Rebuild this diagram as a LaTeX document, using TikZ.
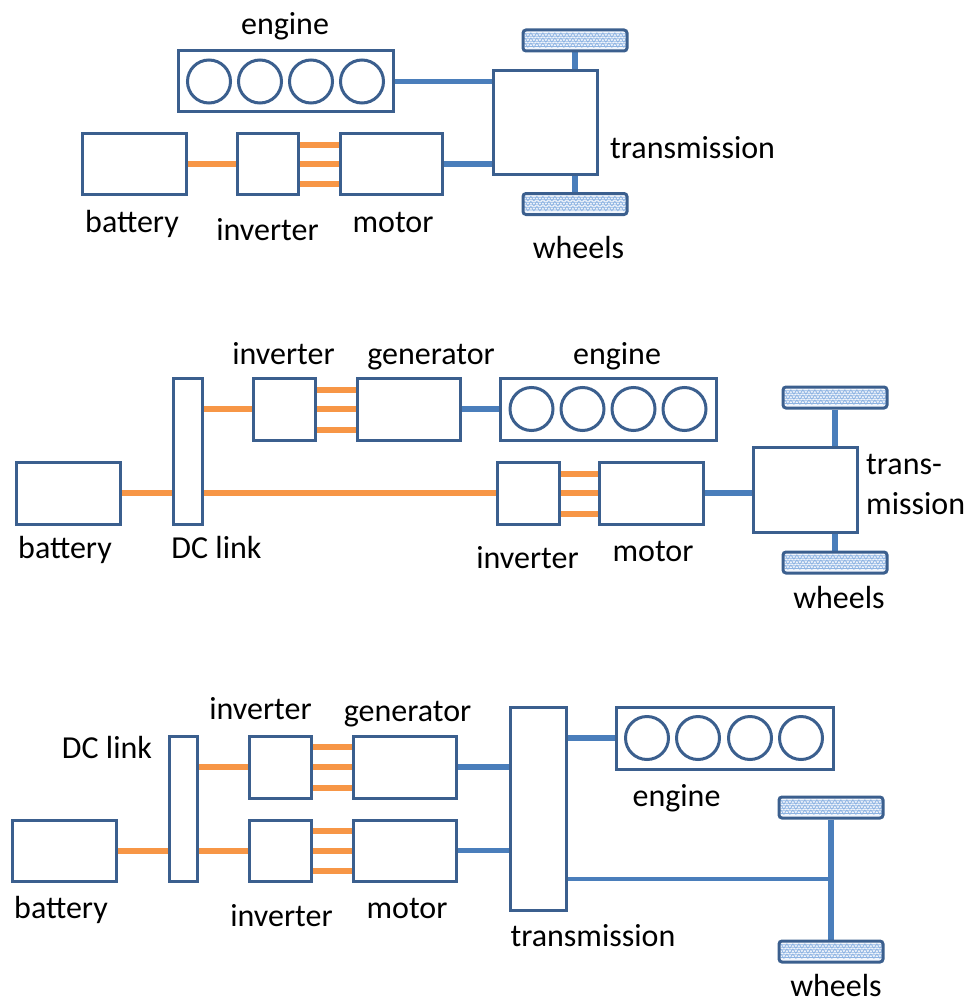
\documentclass[tikz,border=0pt]{standalone}
\usepackage{fontspec}
\setmainfont{Carlito}
\usetikzlibrary{calc,backgrounds,decorations.pathmorphing}
\definecolor{boxblue}{HTML}{3B5F8E}
\definecolor{shaftblue}{HTML}{4A7EBB}
\definecolor{acorange}{HTML}{F79646}
\definecolor{wavefill}{HTML}{F2F6FC}
\definecolor{waveblue}{HTML}{8DB3E2}
\tikzset{
  unit/.style={draw=boxblue, line width=3pt, fill=white, rectangle, inner sep=0pt},
  cyl/.style={draw=boxblue, line width=3pt},
  shaft/.style={draw=shaftblue, line width=5.5pt},
  dcline/.style={draw=acorange, line width=6pt},
  lbl/.style={anchor=base, inner sep=0pt},
  wheel/.style={draw=boxblue, line width=3pt, fill=wavefill, rounded corners=3pt,
    minimum width=104pt, minimum height=21pt, inner sep=0pt,
    path picture={
      \foreach \k in {0.28,0.52,0.76}
        \draw[waveblue, line width=0.7pt, decorate,
              decoration={snake, amplitude=1.3pt, segment length=6pt}]
          ($(path picture bounding box.south west)!\k!(path picture bounding box.north west)$) -- ++(110,0);
    }},
}
\begin{document}
\begin{tikzpicture}[x=1pt, y=-1pt, font=\fontsize{32}{38}\selectfont]
  \useasboundingbox (0,0) rectangle (970,1003);

  % parallel hybrid
  \node[unit, minimum width=215pt, minimum height=61pt] (eng1) at (285.5,81.5) {};
  \foreach \dx in {-76.5,-25.5,25.5,76.5}
    \draw[cyl] ($(eng1)+(\dx,0)$) circle (21.5pt);
  \node[unit, minimum width=104pt, minimum height=104pt] (tr1) at (545,123) {};
  \node[unit, minimum width=104pt, minimum height=61pt] (bat1) at (134,164) {};
  \node[unit, minimum width=61pt, minimum height=61pt] (inv1) at (267.5,164) {};
  \node[unit, minimum width=102pt, minimum height=61pt] (mot1) at (391,164) {};
  \node[wheel] (wt1) at (575,40.5) {};
  \node[wheel] (wb1) at (575,204) {};
  \begin{scope}[on background layer]
    \draw[shaft] (eng1.east) -- (eng1.east -| tr1.west);
    \draw[shaft] (mot1.east) -- (mot1.east -| tr1.west);
    \draw[shaft] (wt1.south) -- (wt1.south |- tr1.north);
    \draw[shaft] (wb1.north) -- (wb1.north |- tr1.south);
    \draw[dcline] (bat1.east) -- (inv1.west);
    \foreach \dy in {-19,0,20}
      \draw[dcline] ($(inv1.east)+(0,\dy)$) -- ($(mot1.west)+(0,\dy)$);
  \end{scope}
  \node[lbl] (l-eng1) at (285,35) {engine};
  \node[lbl] (l-bat1) at (132,232) {battery};
  \node[lbl] (l-inv1) at (267.5,240) {inverter};
  \node[lbl] (l-mot1) at (393,232) {motor};
  \node[lbl, anchor=base west] (l-tr1) at (610,159) {transmission};
  \node[lbl] (l-wh1) at (578.5,258) {wheels};

  % series hybrid
  \node[unit, minimum width=29pt, minimum height=146pt] (dc2) at (187.5,451) {};
  \node[unit, minimum width=62pt, minimum height=62pt] (inv2a) at (284,409) {};
  \node[unit, minimum width=103pt, minimum height=62pt] (gen2) at (408.5,409) {};
  \node[unit, minimum width=216pt, minimum height=62pt] (eng2) at (608,409) {};
  \foreach \dx in {-76.5,-25.5,25.5,76.5}
    \draw[cyl] ($(eng2)+(\dx,0)$) circle (21.5pt);
  \node[unit, minimum width=104pt, minimum height=62pt] (bat2) at (68,493) {};
  \node[unit, minimum width=62pt, minimum height=62pt] (inv2b) at (528,493) {};
  \node[unit, minimum width=104pt, minimum height=62pt] (mot2) at (651,493) {};
  \node[unit, minimum width=104pt, minimum height=85pt] (tr2) at (805,489.5) {};
  \node[wheel] (wt2) at (835,397.5) {};
  \node[wheel] (wb2) at (835,562.5) {};
  \begin{scope}[on background layer]
    \draw[dcline] (bat2.east) -- (bat2.east -| dc2.west);
    \draw[dcline] (inv2a.west -| dc2.east) -- (inv2a.west);
    \draw[dcline] (inv2b.west -| dc2.east) -- (inv2b.west);
    \foreach \dy in {-19,0,21} {
      \draw[dcline] ($(inv2a.east)+(0,\dy)$) -- ($(gen2.west)+(0,\dy)$);
      \draw[dcline] ($(inv2b.east)+(0,\dy)$) -- ($(mot2.west)+(0,\dy)$);
    }
    \draw[shaft] (gen2.east) -- (eng2.west);
    \draw[shaft] (mot2.east) -- (mot2.east -| tr2.west);
    \draw[shaft] (wt2.south) -- (wt2.south |- tr2.north);
    \draw[shaft] (wb2.north) -- (wb2.north |- tr2.south);
  \end{scope}
  \node[lbl] (l-inv2a) at (283.5,364) {inverter};
  \node[lbl] (l-gen2) at (431,364) {generator};
  \node[lbl] (l-eng2) at (617,364) {engine};
  \node[lbl] (l-bat2) at (65,558) {battery};
  \node[lbl] (l-dc2) at (216.5,558) {DC link};
  \node[lbl] (l-inv2b) at (527.5,568) {inverter};
  \node[lbl] (l-mot2) at (653,561) {motor};
  \node[lbl, anchor=base west] (l-tr2a) at (866,474) {trans-};
  \node[lbl, anchor=base west] (l-tr2b) at (866,514) {mission};
  \node[lbl] (l-wh2) at (839,608) {wheels};

  % series-parallel hybrid
  \node[unit, minimum width=28pt, minimum height=145pt] (dc3) at (183,808.5) {};
  \node[unit, minimum width=62pt, minimum height=62pt] (inv3a) at (280,767) {};
  \node[unit, minimum width=103pt, minimum height=62pt] (gen3) at (404.5,767) {};
  \node[unit, minimum width=62pt, minimum height=61pt] (inv3b) at (280,850.5) {};
  \node[unit, minimum width=103pt, minimum height=61pt] (mot3) at (404.5,850.5) {};
  \node[unit, minimum width=104pt, minimum height=61pt] (bat3) at (64,850.5) {};
  \node[unit, minimum width=56pt, minimum height=203pt] (tr3) at (538,808.5) {};
  \node[unit, minimum width=217pt, minimum height=62pt] (eng3) at (724.5,738) {};
  \foreach \dx in {-77.5,-26.5,25.5,76.5}
    \draw[cyl] ($(eng3)+(\dx,0)$) circle (21.5pt);
  \node[wheel] (wt3) at (831,807.5) {};
  \node[wheel] (wb3) at (831,951.5) {};
  \coordinate (ax3) at (831,879);
  \begin{scope}[on background layer]
    \draw[dcline] (bat3.east) -- (bat3.east -| dc3.west);
    \draw[dcline] (inv3a.west -| dc3.east) -- (inv3a.west);
    \draw[dcline] (inv3b.west -| dc3.east) -- (inv3b.west);
    \foreach \dy in {-20,0,20.5} {
      \draw[dcline] ($(inv3a.east)+(0,\dy)$) -- ($(gen3.west)+(0,\dy)$);
      \draw[dcline] ($(inv3b.east)+(0,\dy)$) -- ($(mot3.west)+(0,\dy)$);
    }
    \draw[shaft] (gen3.east) -- (gen3.east -| tr3.west);
    \draw[shaft] (mot3.east) -- (mot3.east -| tr3.west);
    \draw[shaft] (eng3.west -| tr3.east) -- (eng3.west);
    \draw[shaft] (wt3.south) -- (wb3.north);
    \draw[shaft, line width=4.5pt] (ax3 -| tr3.east) -- (ax3);
  \end{scope}
  \node[lbl] (l-inv3a) at (260.5,719) {inverter};
  \node[lbl] (l-gen3) at (407.5,721) {generator};
  \node[lbl] (l-dc3) at (107,758) {DC link};
  \node[lbl] (l-eng3) at (676.5,806) {engine};
  \node[lbl] (l-tr3) at (593,946) {transmission};
  \node[lbl] (l-wh3) at (836,996) {wheels};
  \node[lbl] (l-bat3) at (61,918) {battery};
  \node[lbl] (l-inv3b) at (281.5,926) {inverter};
  \node[lbl] (l-mot3) at (407,918) {motor};
\end{tikzpicture}
\end{document}
